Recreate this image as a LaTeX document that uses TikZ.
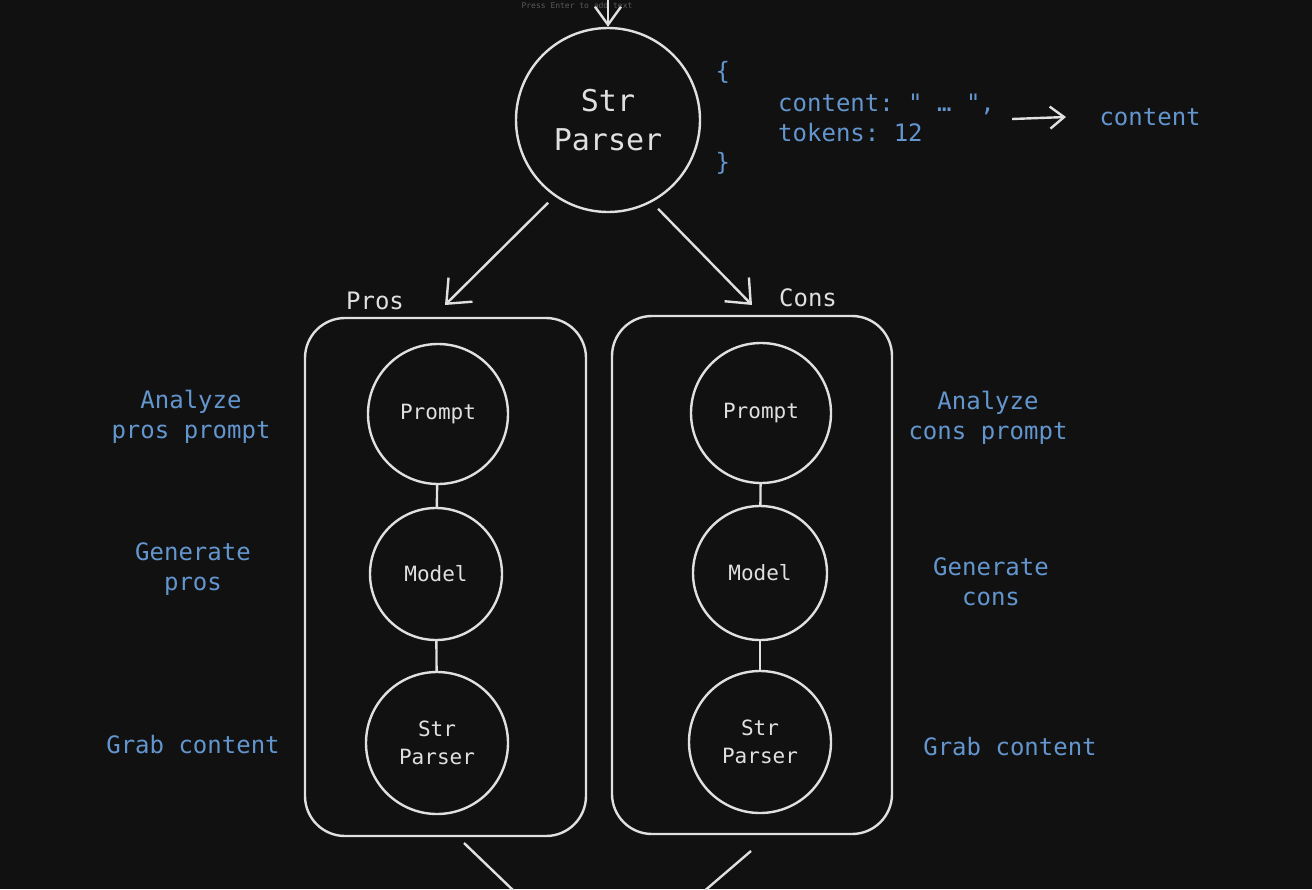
\documentclass[tikz,border=0pt]{standalone}
\usepackage{fontspec}
\setmainfont{DejaVu Sans Mono}
\setmonofont{DejaVu Sans Mono}
\renewcommand{\familydefault}{\ttdefault}
\usetikzlibrary{arrows.meta}
\definecolor{bg}{HTML}{111111}
\definecolor{ink}{HTML}{E0E0E0}
\definecolor{note}{HTML}{6396CE}
\definecolor{hint}{HTML}{5A5A5A}
\begin{document}
\begin{tikzpicture}[x=1pt,y=-1pt,
  stroke/.style={draw=ink, line width=2.4pt},
  arr/.style={stroke, -{Straight Barb[length=20pt,width=34pt,line width=2.4pt]}},
  circ/.style={circle, stroke, minimum size=#1, inner sep=0pt, align=center,
    text=ink, font=\ttfamily\fontsize{21}{28}\selectfont},
  frame/.style={rectangle, stroke, rounded corners=40pt},
  note/.style={text=note, align=center, font=\ttfamily\fontsize{24}{30}\selectfont},
  title/.style={text=ink, font=\ttfamily\fontsize{24}{30}\selectfont}
]
\path[use as bounding box] (0,0) rectangle (1312,889);
\clip (0,0) rectangle (1312,889);
\fill[bg] (0,0) rectangle (1312,889);

% editor hint at the top edge
\node[text=hint, font=\ttfamily\fontsize{8}{10}\selectfont, inner sep=1pt] (hintx) at (577,6) {Press Enter to add text};

% top parser and its output
\node[circ=184pt, font=\ttfamily\fontsize{30}{39}\selectfont] (top) at (608,120) {Str\\Parser};
\coordinate (feed) at (608,-6);
\draw[arr, -{Straight Barb[length=18pt,width=26pt,line width=2.4pt]}] (feed) -- (top.north);

\node[text=note, anchor=west, font=\ttfamily\fontsize{24}{30}\selectfont] (ob) at (712,72) {\{};
\node[text=note, anchor=west, font=\ttfamily\fontsize{24}{30}\selectfont] (cb) at (712,163) {\}};
\node[text=note, anchor=west, align=left, font=\ttfamily\fontsize{24}{30}\selectfont, inner sep=4pt]
  (json) at (774,118) {content: " … ",\\tokens: 12};
\node[note, anchor=west] (out) at (1096,117) {content};
\draw[arr, -{Straight Barb[length=14pt,width=22pt,line width=2.4pt]}]
  ([xshift=13pt,yshift=-1pt]json.east) -- ([xshift=-30pt]out.west);

% the two branches
\node[frame, minimum width=281pt, minimum height=518pt] (pros) at (445.5,577) {};
\node[frame, minimum width=280pt, minimum height=518pt] (cons) at (752,575) {};
\node[title] (prosl) at (375,301) {Pros};
\node[title] (consl) at (808,298) {Cons};

\coordinate (prosin) at (445,305);
\coordinate (consin) at (752,305);
\draw[arr, shorten <=9pt] (top.-125) -- (prosin);
\draw[arr, shorten <=9pt] (top.-62) -- (consin);

% pros chain
\node[circ=140pt] (pp) at (438,414) {Prompt};
\node[circ=132pt] (pm) at (436,574) {Model};
\node[circ=142pt] (ps) at (437,743) {Str\\Parser};
\draw[stroke] (pp) -- (pm);
\draw[stroke] (pm) -- (ps);

% cons chain
\node[circ=140pt] (cp) at (761,413) {Prompt};
\node[circ=134pt] (cm) at (760,573) {Model};
\node[circ=142pt] (cs) at (760,742) {Str\\Parser};
\draw[stroke] (cp) -- (cm);
\draw[stroke] (cm) -- (cs);

% step notes
\node[note] (n1) at (191,417) {Analyze\\pros prompt};
\node[note] (n2) at (193,569) {Generate\\pros};
\node[note] (n3) at (193,745) {Grab content};
\node[note] (n4) at (988,418) {Analyze\\cons prompt};
\node[note] (n5) at (991,582) {Generate\\cons};
\node[note] (n6) at (1010,747) {Grab content};

% lines leaving towards the next stage
\coordinate (pa) at (464,843);
\coordinate (pb) at (516,893);
\coordinate (ca) at (751,851);
\coordinate (cc) at (702,893);
\draw[stroke] (pa) -- (pb);
\draw[stroke] (ca) -- (cc);
\end{tikzpicture}
\end{document}
